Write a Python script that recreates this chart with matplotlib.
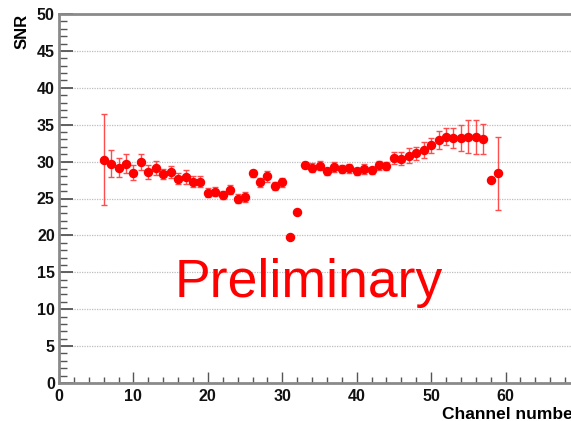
import matplotlib
matplotlib.use("Agg")
import matplotlib.pyplot as plt
from matplotlib.ticker import MultipleLocator

channels = [6, 7, 8, 9, 10, 11, 12, 13, 14, 15, 16, 17, 18, 19, 20, 21, 22, 23, 24, 25,
            26, 27, 28, 29, 30, 31, 32, 33, 34, 35, 36, 37, 38, 39, 40, 41, 42, 43, 44, 45,
            46, 47, 48, 49, 50, 51, 52, 53, 54, 55, 56, 57, 58, 59]
snr = [30.27, 29.73, 29.18, 29.7, 28.5, 29.9, 28.6, 29.1, 28.3, 28.6,
       27.7, 27.9, 27.3, 27.3, 25.8, 25.9, 25.45, 26.2, 25.0, 25.2,
       28.4, 27.2, 28.0, 26.7, 27.2, 19.8, 23.2, 29.6, 29.2, 29.45,
       28.7, 29.3, 29.0, 29.1, 28.7, 29.0, 28.8, 29.5, 29.4, 30.45,
       30.4, 30.8, 31.1, 31.6, 32.2, 32.9, 33.4, 33.2, 33.2, 33.4,
       33.3, 33.05, 27.5, 28.4]
snr_err = [6.2, 1.8, 1.3, 1.3, 1.0, 1.1, 0.9, 0.95, 0.7, 0.85,
           0.8, 0.9, 0.8, 0.75, 0.6, 0.6, 0.55, 0.65, 0.55, 0.7,
           0.5, 0.6, 0.7, 0.5, 0.6, 0.2, 0.2, 0.4, 0.6, 0.6,
           0.5, 0.7, 0.6, 0.6, 0.5, 0.7, 0.5, 0.6, 0.6, 0.8,
           0.9, 1.0, 0.9, 1.05, 1.0, 1.25, 1.2, 1.3, 1.7, 2.2,
           2.3, 2.0, 0.3, 4.9]
x_ticks = [0, 10, 20, 30, 40, 50, 60, 70]
x_ticklabels = ['0', '10', '20', '30', '40', '50', '60', '']

plt.rcParams['font.family'] = ['Liberation Sans', 'DejaVu Sans']

fig = plt.figure(figsize=(5.71, 4.21), dpi=100)
ax = fig.add_axes([59 / 571, 1 - 383 / 421, (580 - 59) / 571, (383 - 14) / 421])

ax.errorbar(channels, snr, yerr=snr_err, fmt='o', color='red', ecolor=(1, 0.3, 0.3),
            elinewidth=1.0, capsize=2, capthick=1.0, markersize=5.8, zorder=3)

ax.set_xlim(0, 70)
ax.set_ylim(0, 50)
ax.set_xticks(x_ticks)
ax.set_xticklabels(x_ticklabels)
ax.xaxis.set_minor_locator(MultipleLocator(2))
ax.yaxis.set_major_locator(MultipleLocator(5))
ax.yaxis.set_minor_locator(MultipleLocator(1))

spine_col = '#8a8a8a'
for s in ['left', 'bottom', 'top']:
    ax.spines[s].set_color(spine_col)
    ax.spines[s].set_linewidth(2.0)
ax.spines['right'].set_visible(False)

ax.tick_params(axis='both', which='both', direction='in', colors='#555555',
               labelcolor='#111111', top=False, right=False)
ax.tick_params(axis='y', which='major', length=10, width=1.3, pad=3, labelsize=11.5)
ax.tick_params(axis='y', which='minor', length=6, width=1.0)
ax.tick_params(axis='x', which='major', length=8, width=1.0, pad=4, labelsize=11.5)
ax.tick_params(axis='x', which='minor', length=4.5, width=1.0)
for lab in ax.get_xticklabels() + ax.get_yticklabels():
    lab.set_fontweight('bold')

ax.yaxis.grid(True, which='major', linestyle=(0, (1, 1)), color='#bdbdbd', linewidth=0.9)
ax.set_axisbelow(True)

ax.set_ylabel('SNR', fontsize=12, fontweight='bold', loc='top', labelpad=5)
ax.set_xlabel('Channel number', fontsize=12.5, fontweight='bold', loc='right', labelpad=2.5)

ax.text(0.48, 0.232, 'Preliminary', transform=ax.transAxes, color='red',
        fontsize=38.5, ha='center', va='baseline')

fig.savefig('out.png', dpi=100)
